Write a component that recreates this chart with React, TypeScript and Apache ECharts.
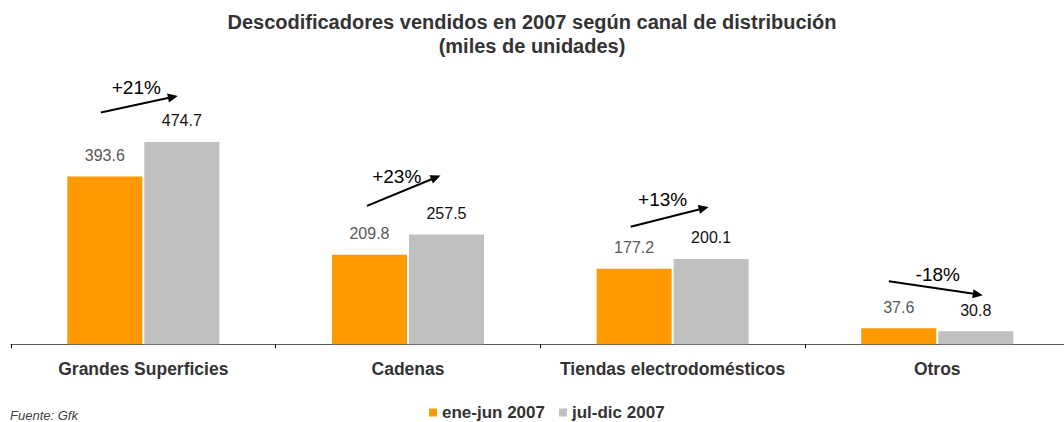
import React, { useEffect, useRef } from "react";
import * as echarts from "echarts";

const categories = ["Grandes Superficies", "Cadenas", "Tiendas electrodomésticos", "Otros"];
const seriesNames = ["ene-jun 2007", "jul-dic 2007"];
const firstHalf = [393.6, 209.8, 177.2, 37.6];
const secondHalf = [474.7, 257.5, 200.1, 30.8];
const changeLabels = ["+21%", "+23%", "+13%", "-18%"];
const titleText = "Descodificadores vendidos en 2007 según canal de distribución\n(miles de unidades)";
const sourceNote = "Fuente: Gfk";

// annotation placement (pixel offsets relative to bar tops / centres)
const arrowStartDx = [-4, -2.5, -3.5, -10];
const arrowStartDy = [-64, -49, -42, -47];
const arrowEndDx = [-4, -6, -2.5, 7];
const arrowEndDy = [-46, -59, -52, -36];
const pctDx = [-3, -7, -7, 2];
const pctDy = [-17, -14, -17, -14];

const BAR_W = 75;
const BAR_GAP_PX = 2;
const ORANGE = "#FF9900";
const GREY = "#C0C0C0";
const FONT = "'Liberation Sans', Arial, sans-serif";

export default function App() {
  const ref = useRef<HTMLDivElement>(null);
  useEffect(() => {
    if (!ref.current) return;
    const chart = echarts.init(ref.current, null, { renderer: "svg" });
    const option: any = {
      animation: false,
      backgroundColor: "#ffffff",
      textStyle: { fontFamily: FONT },
      title: {
        text: titleText,
        left: "center",
        top: 5,
        textStyle: { fontFamily: FONT, fontSize: 20, fontWeight: "bold", color: "#333333", lineHeight: 24 },
      },
      legend: {
        left: 424,
        top: 399,
        icon: "rect",
        itemWidth: 8,
        itemHeight: 8,
        itemGap: 14,
        textStyle: { fontFamily: FONT, fontSize: 17, fontWeight: "bold", color: "#333333" },
        data: seriesNames,
      },
      grid: {
        left: 11,
        width: 1058.6,
        top: 88.5,
        bottom: 77.7,
        containLabel: false,
        outerBoundsMode: "none",
      },
      xAxis: {
        type: "category",
        data: categories,
        axisLine: { lineStyle: { color: "#595959", width: 1 } },
        axisTick: { show: true, length: 4, lineStyle: { color: "#000000" } },
        axisLabel: {
          interval: 0,
          fontFamily: FONT,
          fontSize: 17.5,
          fontWeight: "bold",
          color: "#333333",
          margin: 16,
        },
      },
      yAxis: { type: "value", min: 0, max: 600, show: false, splitLine: { show: false } },
      series: [
        {
          name: seriesNames[0],
          type: "bar",
          data: firstHalf,
          barWidth: BAR_W,
          barGap: (BAR_GAP_PX / BAR_W) * 100 + "%",
          itemStyle: { color: ORANGE },
          label: { show: true, position: "top", distance: 13, fontFamily: FONT, fontSize: 16, color: "#595959" },
        },
        {
          name: seriesNames[1],
          type: "bar",
          data: secondHalf,
          barWidth: BAR_W,
          barGap: (BAR_GAP_PX / BAR_W) * 100 + "%",
          itemStyle: { color: GREY },
          label: { show: true, position: "top", distance: 13, fontFamily: FONT, fontSize: 16, color: "#111111" },
        },
      ],
    };
    chart.setOption(option);

    const half = (BAR_W + BAR_GAP_PX) / 2;
    const elems: any[] = [];
    categories.forEach((_c, i) => {
      const p1 = chart.convertToPixel({ gridIndex: 0 } as any, [i, firstHalf[i]]) as number[];
      const p2 = chart.convertToPixel({ gridIndex: 0 } as any, [i, secondHalf[i]]) as number[];
      const sx = p1[0] - half + arrowStartDx[i];
      const sy = p1[1] + arrowStartDy[i];
      const ex = p2[0] + half + arrowEndDx[i];
      const ey = p2[1] + arrowEndDy[i];
      const dx = ex - sx;
      const dy = ey - sy;
      const len = Math.sqrt(dx * dx + dy * dy);
      const ux = dx / len;
      const uy = dy / len;
      const headL = 10;
      const headW = 4.5;
      const bx = ex - ux * headL;
      const by = ey - uy * headL;
      elems.push({
        type: "line",
        shape: { x1: sx, y1: sy, x2: bx + ux * 1, y2: by + uy * 1 },
        style: { stroke: "#000000", lineWidth: 2 },
        silent: true,
      });
      elems.push({
        type: "polygon",
        shape: {
          points: [
            [ex, ey],
            [bx - uy * headW, by + ux * headW],
            [bx + uy * headW, by - ux * headW],
          ],
        },
        style: { fill: "#000000" },
        silent: true,
      });
      elems.push({
        type: "text",
        x: (sx + ex) / 2 + pctDx[i],
        y: (sy + ey) / 2 + pctDy[i],
        style: {
          text: changeLabels[i],
          fontFamily: FONT,
          fontSize: 19,
          fill: "#000000",
          align: "center",
          verticalAlign: "middle",
        },
        silent: true,
      });
    });
    elems.push({
      type: "text",
      x: 10,
      y: 415,
      style: {
        text: sourceNote,
        fontFamily: FONT,
        fontSize: 13,
        fontStyle: "italic",
        fill: "#404040",
        align: "left",
        verticalAlign: "middle",
      },
      silent: true,
    });
    chart.setOption({ graphic: { elements: elems } });

    return () => chart.dispose();
  }, []);
  return (
    <div
      ref={ref}
      style={{ position: "fixed", left: 0, top: 0, width: 1064, height: 422 }}
    />
  );
}
